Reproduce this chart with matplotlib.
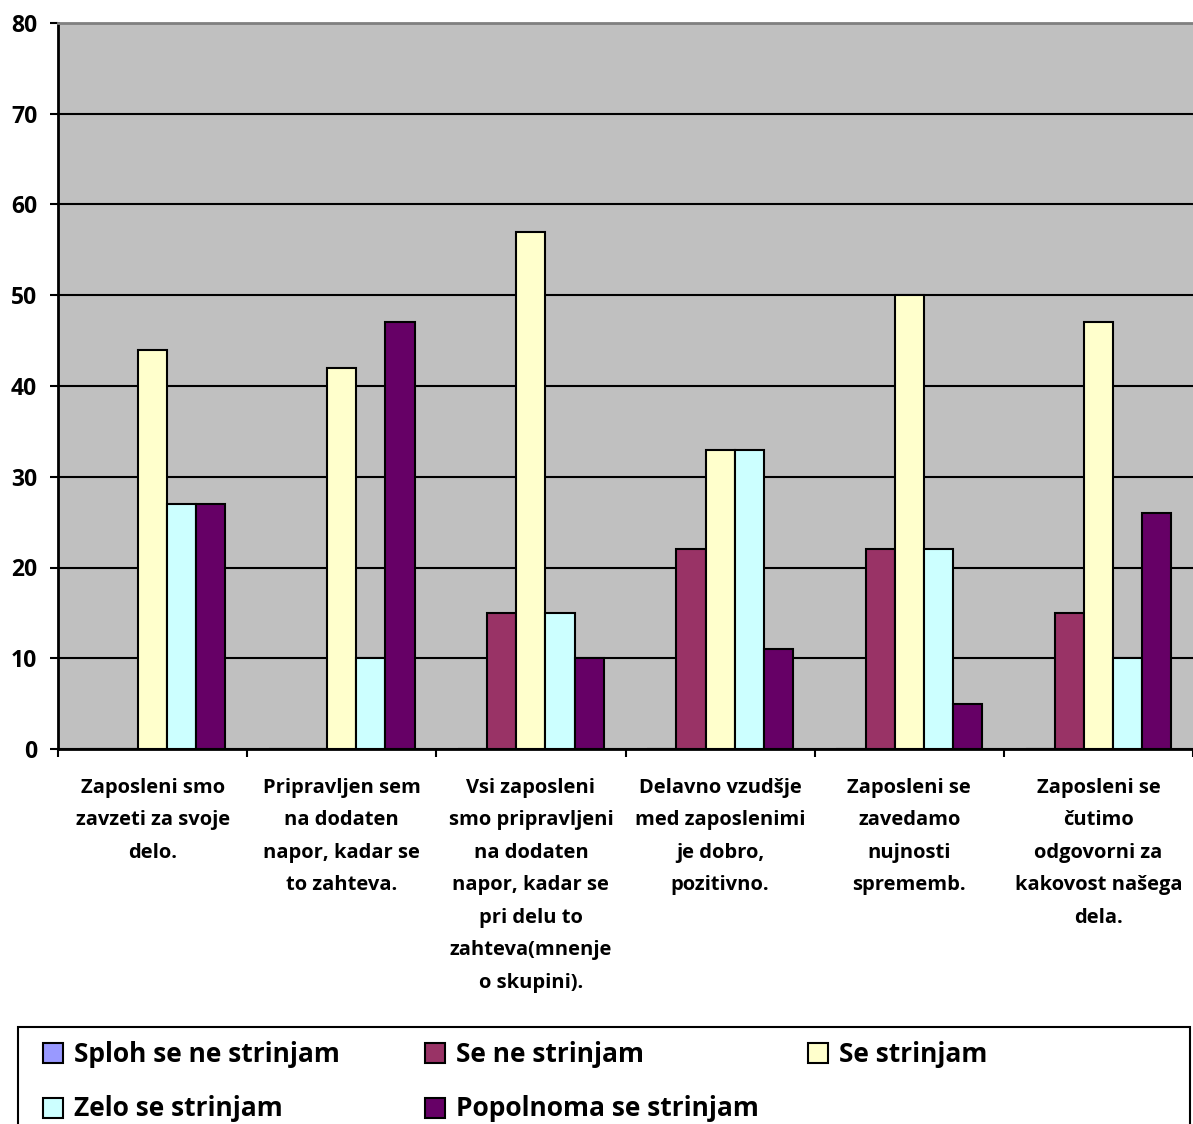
import matplotlib
matplotlib.use('Agg')
import matplotlib.pyplot as plt
import numpy as np
from matplotlib.patches import Rectangle

plt.rcParams['font.family'] = ['Open Sans', 'DejaVu Sans']
plt.rcParams['font.weight'] = 'bold'

categories = [
    "Zaposleni smo\nzavzeti za svoje\ndelo.",
    "Pripravljen sem\nna dodaten\nnapor, kadar se\nto zahteva.",
    "Vsi zaposleni\nsmo pripravljeni\nna dodaten\nnapor, kadar se\npri delu to\nzahteva(mnenje\no skupini).",
    "Delavno vzudšje\nmed zaposlenimi\nje dobro,\npozitivno.",
    "Zaposleni se\nzavedamo\nnujnosti\nsprememb.",
    "Zaposleni se\nčutimo\nodgovorni za\nkakovost našega\ndela.",
]
series_names = ["Sploh se ne strinjam", "Se ne strinjam", "Se strinjam",
                "Zelo se strinjam", "Popolnoma se strinjam"]
sploh = [0, 0, 0, 0, 0, 0]
se_ne = [0, 0, 15, 22, 22, 15]
se_strinjam = [44, 42, 57, 33, 50, 47]
zelo = [27, 10, 15, 33, 22, 10]
popolnoma = [27, 47, 10, 11, 5, 26]
colors = ["#9999FF", "#993366", "#FFFFCC", "#CCFFFF", "#660066"]
yticks = [0, 10, 20, 30, 40, 50, 60, 70, 80]

values = [sploh, se_ne, se_strinjam, zelo, popolnoma]

fig = plt.figure(figsize=(11.93, 11.24), dpi=100)
ax = fig.add_axes([58 / 1193, 1 - 749 / 1124, 1 - 58 / 1193, (749 - 23) / 1124])
ax.set_facecolor("#C0C0C0")

n = len(categories)
w = 1 / 6.5
x = np.arange(n)
for i, (vals, c) in enumerate(zip(values, colors)):
    ax.bar(x + (i - 2) * w, vals, width=w, color=c, edgecolor="black",
           linewidth=1.5, zorder=3)

ax.set_xlim(-0.5, n - 0.5)
ax.set_ylim(0, 80)
ax.set_yticks(yticks)
ax.yaxis.grid(True, color="black", linewidth=1.5, zorder=1)
ax.set_axisbelow(True)

ax.set_xticks(np.arange(n + 1) - 0.5)
ax.set_xticklabels([])
ax.tick_params(axis='x', length=6, width=1.5, direction='out')
ax.tick_params(axis='y', length=6, width=1.5, direction='out', labelsize=16.5, pad=9)
for lbl in ax.get_yticklabels():
    lbl.set_fontweight('bold')

for i, lab in enumerate(categories):
    ax.annotate(lab, xy=(i, 0), xycoords=('data', 'axes fraction'),
                xytext=(0, -29), textcoords='offset pixels', ha='center', va='top',
                fontsize=14.5, fontweight='bold', linespacing=1.83)

ax.spines['right'].set_visible(False)
ax.spines['top'].set_color("#808080")
ax.spines['top'].set_linewidth(2)
ax.spines['left'].set_linewidth(2)
ax.spines['bottom'].set_linewidth(2)

# legend box, Excel style (row-wise, equal columns)
fig.patches.append(Rectangle((18 / 1193, -0.01), (1190 - 18) / 1193, (1 - 1027 / 1124) + 0.01,
                             transform=fig.transFigure, facecolor='white',
                             edgecolor='black', linewidth=1.5))
col_x = [43, 425, 808]
row_y = [1053, 1108]
for k, (name, c) in enumerate(zip(series_names, colors)):
    cx = col_x[k % 3]
    cy = row_y[k // 3]
    fig.patches.append(Rectangle((cx / 1193, 1 - (cy + 10) / 1124), 20 / 1193, 20 / 1124,
                                 transform=fig.transFigure, facecolor=c,
                                 edgecolor='black', linewidth=1.5))
    fig.text((cx + 31) / 1193, 1 - (cy + 1) / 1124, name, fontsize=19,
             fontweight='bold', va='center', ha='left')

fig.savefig("out.png", dpi=100)
